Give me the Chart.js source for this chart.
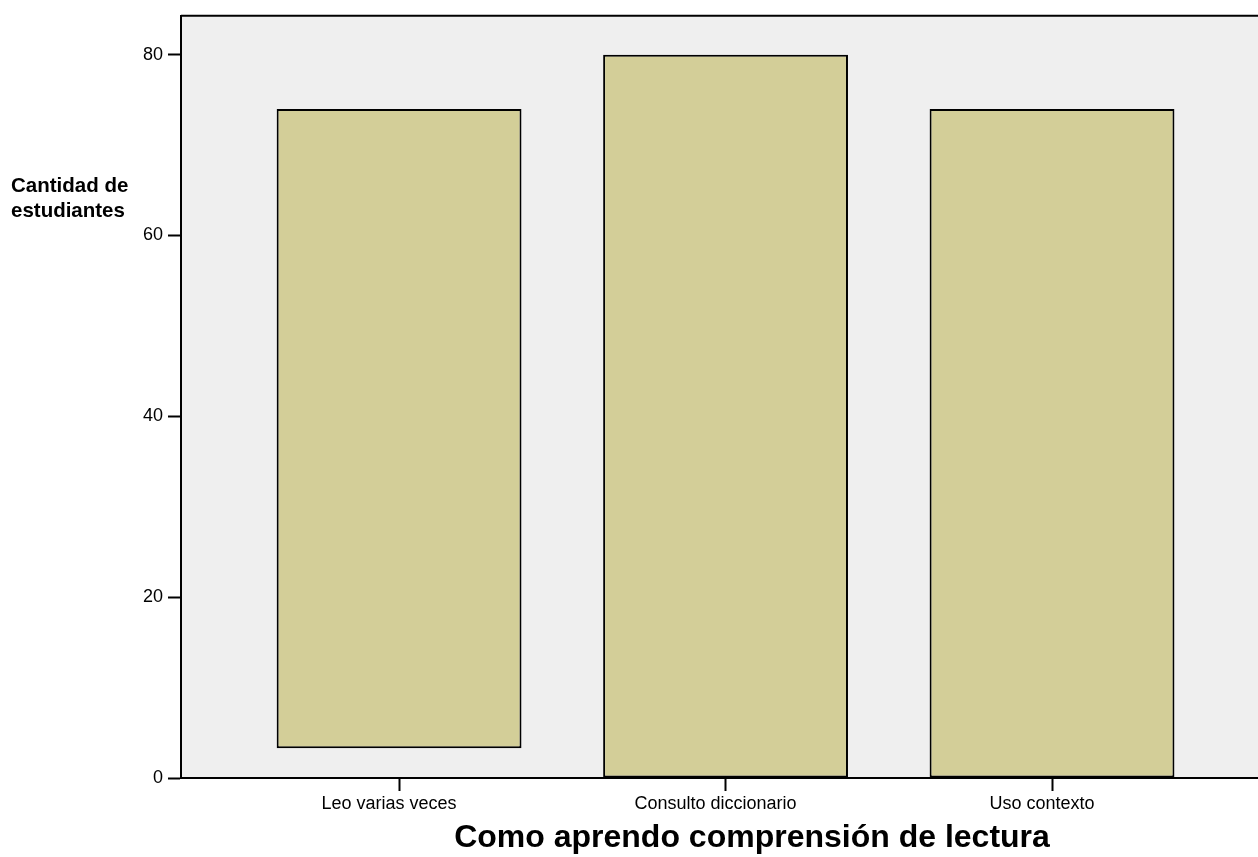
<!DOCTYPE html>
<html lang="es">
<head>
  <meta charset="UTF-8" />
  <title>Como aprendo comprensión de lectura</title>
  <script src="https://cdn.jsdelivr.net/npm/chart.js"></script>
  <style>
    html, body { margin: 0; padding: 0; background: #fff; overflow: hidden; }
    /* plot runs past the right edge of the picture, as in the source */
    #wrap { width: 1323px; height: 857px; position: relative; }
  </style>
</head>
<body>
  <div id="wrap"><canvas id="chart"></canvas></div>

  <script>
    // data
    const categories = ['Leo varias veces', 'Consulto diccionario', 'Uso contexto'];
    const barStarts = [3.3, 0, 0];
    const barEnds = [74, 80, 74];
    const yTicks = [0, 20, 40, 60, 80];

    const points = categories.map((c, i) => ({ x: i, y: [barStarts[i], barEnds[i]] }));
    const FONT = '"Liberation Sans", Arial, sans-serif';

    // grey plot background, top border and the two-line y title
    const frame = {
      id: 'frame',
      beforeDraw(chart) {
        const { ctx, chartArea: a } = chart;
        ctx.save();
        ctx.fillStyle = '#EFEFEF';
        ctx.fillRect(a.left, a.top, a.right - a.left, a.bottom - a.top);
        ctx.restore();
      },
      afterDraw(chart) {
        const { ctx, chartArea: a } = chart;
        ctx.save();
        ctx.strokeStyle = '#000';
        ctx.lineWidth = 2;
        ctx.beginPath();
        ctx.moveTo(a.left, a.top);
        ctx.lineTo(a.right, a.top);
        ctx.stroke();
        ctx.fillStyle = '#000';
        ctx.font = 'bold 20.5px ' + FONT;
        ctx.textBaseline = 'alphabetic';
        ctx.fillText('Cantidad de', 11, 192);
        ctx.fillText('estudiantes', 11, 217);
        ctx.restore();
      }
    };

    new Chart(document.getElementById('chart'), {
      type: 'bar',
      data: {
        datasets: [{
          data: points,
          backgroundColor: '#D3CE98',
          borderColor: '#000',
          borderWidth: 2,
          borderSkipped: false,
          barPercentage: 0.75,
          categoryPercentage: 1
        }]
      },
      options: {
        responsive: true,
        maintainAspectRatio: false,
        animation: false,
        layout: { padding: { top: 15, right: 0, left: 0, bottom: 0 } },
        plugins: { legend: { display: false }, tooltip: { enabled: false } },
        scales: {
          x: {
            type: 'linear',
            min: -0.668,
            max: 2.83,
            offset: false,
            afterBuildTicks: s => { s.ticks = categories.map((c, i) => ({ value: i })); },
            afterFit: s => { s.height = 79; },
            ticks: {
              callback: v => categories[v],
              color: '#000',
              padding: 2,
              labelOffset: -10,
              maxRotation: 0,
              font: { family: FONT, size: 18 }
            },
            grid: { offset: false, drawOnChartArea: false, drawTicks: true, tickLength: 13, tickColor: '#000', tickWidth: 2 },
            border: { display: true, color: '#000', width: 2 },
            title: {
              display: true,
              text: 'Como aprendo comprensión de lectura',
              color: '#000',
              padding: { top: 0, bottom: 0 },
              font: { family: FONT, size: 32, weight: 'bold' }
            }
          },
          y: {
            min: 0,
            max: 84.3,
            afterBuildTicks: s => { s.ticks = yTicks.map(v => ({ value: v })); },
            afterFit: s => { s.width = 181; },
            ticks: {
              color: '#000',
              padding: 5,
              font: { family: FONT, size: 18 }
            },
            grid: { drawOnChartArea: false, drawTicks: true, tickLength: 13, tickColor: '#000', tickWidth: 2 },
            border: { display: true, color: '#000', width: 2 }
          }
        }
      },
      plugins: [frame]
    });
  </script>
</body>
</html>
